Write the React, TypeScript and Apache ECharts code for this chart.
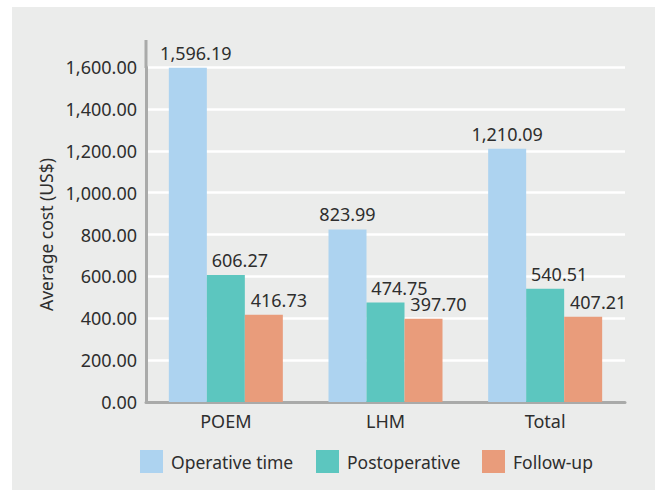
import React, { useEffect, useRef } from "react";
import * as echarts from "echarts";

const categories = ["POEM", "LHM", "Total"];
const seriesNames = ["Operative time", "Postoperative", "Follow-up"];
const operativeTime = [1596.19, 823.99, 1210.09];
const postoperative = [606.27, 474.75, 540.51];
const followUp = [416.73, 397.7, 407.21];
const yTicks = { min: 0, max: 1600, interval: 200 };

const colors = ["#ADD3F0", "#5CC6BF", "#E99C7B"];
const FONT = "'Noto Sans', sans-serif";
const TEXT = "#2e2e2e";

const fmt = (v: number) =>
  v.toLocaleString("en-US", { minimumFractionDigits: 2, maximumFractionDigits: 2 });

export default function App() {
  const ref = useRef<HTMLDivElement>(null);
  useEffect(() => {
    if (!ref.current) return;
    const chart = echarts.init(ref.current, undefined, { renderer: "svg" });
    const values = [operativeTime, postoperative, followUp];
    const labelOffsets = [
      [0, 0],
      [14, 0],
      [15, 0],
    ];
    const legendLefts = [128, 304, 470];
    chart.setOption({
      animation: false,
      backgroundColor: "transparent",
      textStyle: { fontFamily: FONT, color: TEXT },
      grid: { left: 134, right: 30, top: 60, bottom: 88, containLabel: false },
      legend: seriesNames.map((name, i) => ({
        data: [name],
        left: legendLefts[i],
        top: 443,
        padding: 0,
        itemWidth: 23,
        itemHeight: 23,
        itemGap: 8,
        icon: "rect",
        textStyle: { fontFamily: FONT, fontSize: 17.5, color: TEXT, padding: [0, 0, 0, 3] },
        selectedMode: false,
      })),
      xAxis: {
        type: "category",
        data: categories,
        axisLine: { show: true, lineStyle: { color: "#A9AAA9", width: 3 } },
        axisTick: { show: false },
        axisLabel: { fontFamily: FONT, fontSize: 18, color: TEXT, margin: 10 },
      },
      yAxis: {
        type: "value",
        min: yTicks.min,
        max: yTicks.max,
        interval: yTicks.interval,
        name: "Average cost (US$)",
        nameLocation: "middle",
        nameGap: 76,
        nameTextStyle: { fontFamily: FONT, fontSize: 17.5, color: TEXT },
        axisLine: { show: true, lineStyle: { color: "#A9AAA9", width: 3 } },
        axisTick: { show: false },
        axisLabel: { fontFamily: FONT, fontSize: 18, color: TEXT, margin: 9, formatter: (v: number) => fmt(v) },
        splitLine: { show: true, lineStyle: { color: "#FFFFFF", width: 2.5 } },
      },
      graphic: [
        {
          type: "line",
          shape: { x1: 134, y1: 33, x2: 134, y2: 61 },
          style: { stroke: "#A9AAA9", lineWidth: 3 },
        },
      ],
      series: seriesNames.map((name, s) => ({
        name,
        type: "bar",
        barWidth: 38,
        barGap: "0%",
        itemStyle: { color: colors[s] },
        label: {
          show: true,
          position: "top",
          distance: 6,
          offset: labelOffsets[s],
          fontFamily: FONT,
          fontSize: 18,
          color: TEXT,
          formatter: (p: any) => fmt(p.value),
        },
        data: values[s].map((v, i) =>
          s === 0 && i === 0 ? { value: v, label: { offset: [8, 0] } } : v
        ),
      })),
    });
    return () => chart.dispose();
  }, []);
  return (
    <div style={{ position: "fixed", left: 0, top: 0, width: 655, height: 490, background: "#FFFFFF" }}>
      <div
        ref={ref}
        style={{ position: "absolute", left: 12, top: 7, width: 643, height: 483, background: "#EBECEB" }}
      />
    </div>
  );
}
